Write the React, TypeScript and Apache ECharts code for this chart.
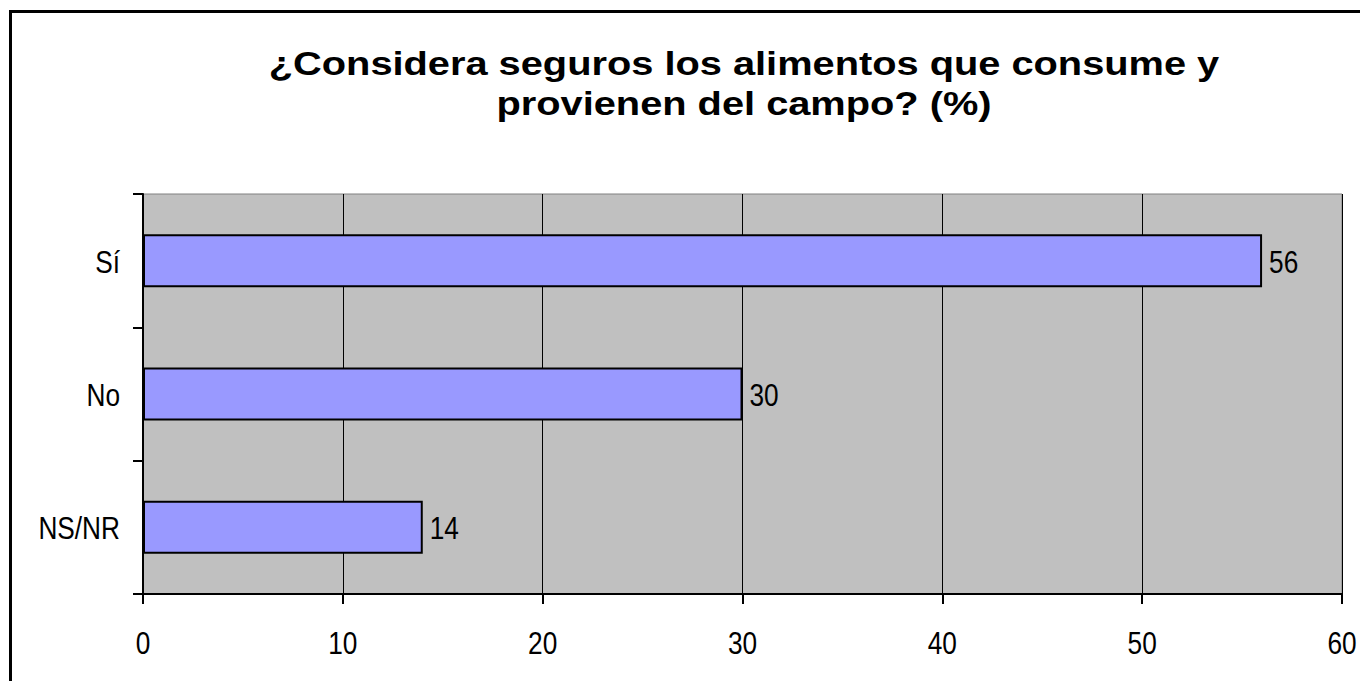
import React, { useEffect, useRef } from "react";
import * as echarts from "echarts";

const titleLines = ["¿Considera seguros los alimentos que consume y", "provienen del campo? (%)"];
const categories = ["Sí", "No", "NS/NR"];
const values = [56, 30, 14];
const xTicks = [0, 10, 20, 30, 40, 50, 60];

const FONT = '"Liberation Sans", Arial, sans-serif';
const GRID_LEFT = 135;
const GRID_TOP = 186;
const GRID_W = 1199;
const GRID_H = 400;
const NARROW_SCALE = 0.82;

function label(text: string, x: number, y: number, align: string) {
  return {
    type: "text",
    x,
    y,
    scaleX: NARROW_SCALE,
    silent: true,
    style: {
      text,
      x: 0,
      y: 0,
      textAlign: align,
      align,
      textVerticalAlign: "middle",
      verticalAlign: "middle",
      fontFamily: FONT,
      fontSize: 32,
      fill: "#000",
    },
  };
}

export default function App() {
  const ref = useRef<HTMLDivElement>(null);
  useEffect(() => {
    if (!ref.current) return;
    const chart = echarts.init(ref.current, null, { renderer: "svg" });
    chart.setOption({
      animation: false,
      backgroundColor: "#ffffff",
      grid: {
        left: GRID_LEFT,
        top: GRID_TOP,
        width: GRID_W,
        height: GRID_H,
        show: true,
        backgroundColor: "#C0C0C0",
        borderColor: "#808080",
        borderWidth: 1,
      },
      xAxis: {
        type: "value",
        min: xTicks[0],
        max: xTicks[xTicks.length - 1],
        interval: 10,
        axisLine: { show: true, lineStyle: { color: "#000", width: 2 } },
        axisTick: { show: true, length: 10, lineStyle: { color: "#000", width: 2 } },
        splitLine: { show: true, lineStyle: { color: "#000", width: 1 } },
        axisLabel: { show: false },
      },
      yAxis: {
        type: "category",
        data: categories,
        inverse: true,
        axisLine: { show: true, lineStyle: { color: "#000", width: 2 } },
        axisTick: { show: true, length: 10, lineStyle: { color: "#000", width: 2 } },
        axisLabel: { show: false },
      },
      series: [
        {
          type: "bar",
          data: values,
          barWidth: 53,
          itemStyle: { color: "#9999FF", borderColor: "#000", borderWidth: 2 },
          label: { show: false },
        },
      ],
    });

    const graphics: any[] = [
      {
        type: "text",
        x: 736,
        y: 36,
        scaleX: 1.17,
        style: {
          text: titleLines.join("\n"),
          x: 0,
          y: 0,
          textAlign: "center",
          align: "center",
          fontFamily: FONT,
          fontWeight: "bold",
          fontSize: 34,
          lineHeight: 40,
          fill: "#000",
        },
      },
      { type: "line", shape: { x1: 2.5, y1: 2, x2: 2.5, y2: 700 }, style: { stroke: "#000", lineWidth: 3 } },
      { type: "line", shape: { x1: 1, y1: 3.5, x2: 1400, y2: 3.5 }, style: { stroke: "#000", lineWidth: 3 } },
    ];

    xTicks.forEach((v) => {
      const px = chart.convertToPixel({ xAxisIndex: 0 }, v) as number;
      graphics.push(label(String(v), px, GRID_TOP + GRID_H + 49, "center"));
    });
    categories.forEach((c, i) => {
      const py = chart.convertToPixel({ yAxisIndex: 0 }, c) as number;
      graphics.push(label(c, GRID_LEFT - 23, py + 1, "right"));
      const px = chart.convertToPixel({ xAxisIndex: 0 }, values[i]) as number;
      graphics.push(label(String(values[i]), px + 7, py + 1, "left"));
    });

    chart.setOption({ graphic: graphics });
    return () => chart.dispose();
  }, []);
  return <div ref={ref} style={{ width: 1352, height: 673 }} />;
}
